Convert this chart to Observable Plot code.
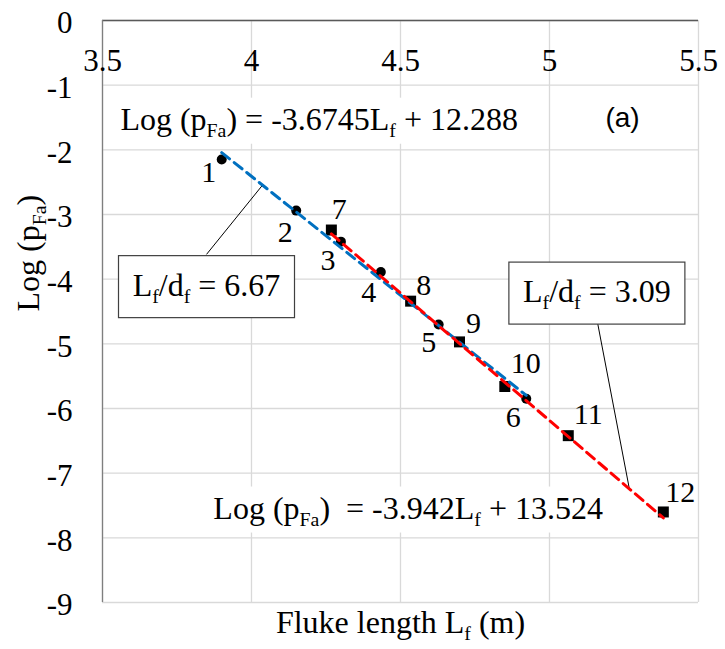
<!DOCTYPE html>
<html><head><meta charset="utf-8">
<script src="https://cdn.jsdelivr.net/npm/d3@7"></script>
<script src="https://cdn.jsdelivr.net/npm/@observablehq/plot@0.6"></script>
<style>body{margin:0;background:#fff} svg text{font-variant:normal !important;}</style>
</head><body><div id="chart"></div>
<script>
// ---- data ----
const xTicks = [3.5, 4, 4.5, 5, 5.5];
const yTicks = [0, -1, -2, -3, -4, -5, -6, -7, -8, -9];
const circleLabels = ["1", "2", "3", "4", "5", "6"];
const circleX = [3.90, 4.15, 4.30, 4.434, 4.628, 4.922];
const circleY = [-2.15, -2.94, -3.42, -3.89, -4.70, -5.85];
const squareLabels = ["7", "8", "9", "10", "11", "12"];
const squareX = [4.268, 4.534, 4.698, 4.85, 5.063, 5.382];
const squareY = [-3.24, -4.34, -4.97, -5.66, -6.42, -7.60];
const trendSlopes = [-3.6745, -3.942];
const trendIntercepts = [12.288, 13.524];
const equationTexts = ["Log (p_{Fa}) = -3.6745L_{f} + 12.288", "Log (p_{Fa})\u00a0 = -3.942L_{f} + 13.524"];
const ratioTexts = ["L_{f}/d_{f} = 6.67", "L_{f}/d_{f} = 3.09"];
const panelLabel = "(a)";
const xTitle = "Fluke length L_{f} (m)";
const yTitle = "Log (p_{Fa})";

// ---- annotation placement (style) ----
const circleOffsets = [[-13, 13], [-11, 22], [-13, 19], [-12, 20], [-10, 18], [-13, 19]];
const squareOffsets = [[8, -21], [13, -16], [14, -19], [21, -23], [20, -21], [17, -20]];
const equationPos = [[3.560, -1.53], [3.872, -7.543]];
const ratioPos = [[3.849, -4.096], [5.159, -4.196]];
const leaderStart = [[3.849, -3.617], [5.161, -4.668]];
const leaderEndX = [4.037, 5.268];
const trendColors = ["#0070C0", "#FF0000"];

const serif = "'Liberation Serif','Times New Roman',serif";
const lineOf = (k, xs) => {
  const lo = d3.min(xs), hi = d3.max(xs);
  return [lo, hi].map(x => ({x, y: trendSlopes[k] * x + trendIntercepts[k]}));
};
const T = {fontFamily: serif, fontVariant: "normal"};

const marks = [
  Plot.ruleX(xTicks, {stroke: "#d9d9d9", strokeWidth: 1.3}),
  Plot.ruleY(yTicks, {stroke: "#d9d9d9", strokeWidth: 1.3}),
  Plot.ruleY([0], {stroke: "#595959", strokeWidth: 1.3}),
  Plot.ruleX([3.5], {stroke: "#7f7f7f", strokeWidth: 1.3}),
  Plot.axisY({ticks: yTicks, anchor: "left", tickSize: 0, tickPadding: 30, tickFormat: d => String(d), fontSize: 31, label: null, dy: 3, ...T}),
  Plot.text(xTicks, {x: d => d, y: 0, dy: 41, text: d => String(d), fontSize: 31, ...T}),
  Plot.text([xTitle], {frameAnchor: "bottom", dy: 30, fontSize: 32, ...T}),
  Plot.text([yTitle], {frameAnchor: "left", dx: -74, rotate: -90, fontSize: 32, ...T}),
  // leader lines
  Plot.link([0, 1], {
    x1: i => leaderStart[i][0], y1: i => leaderStart[i][1],
    x2: i => leaderEndX[i], y2: i => trendSlopes[i] * leaderEndX[i] + trendIntercepts[i],
    stroke: "black", strokeWidth: 1
  }),
  // markers
  Plot.dot(circleX.map((x, i) => ({x, y: circleY[i]})), {x: "x", y: "y", r: 5, fill: "black", symbol: "circle"}),
  Plot.dot(squareX.map((x, i) => ({x, y: squareY[i]})), {x: "x", y: "y", r: 6.2, fill: "black", symbol: "square"}),
  // trend lines
  Plot.line(lineOf(0, circleX), {x: "x", y: "y", stroke: trendColors[0], strokeWidth: 3, strokeDasharray: "10,6"}),
  Plot.line(lineOf(1, squareX), {x: "x", y: "y", stroke: trendColors[1], strokeWidth: 3, strokeDasharray: "10,6"}),
  // point labels
  ...circleLabels.map((lab, i) => Plot.text([lab], {x: circleX[i], y: circleY[i], dx: circleOffsets[i][0], dy: circleOffsets[i][1], fontSize: 30, ...T})),
  ...squareLabels.map((lab, i) => Plot.text([lab], {x: squareX[i], y: squareY[i], dx: squareOffsets[i][0], dy: squareOffsets[i][1], fontSize: 30, ...T})),
  // equations
  ...equationTexts.map((t, i) => Plot.text([t], {x: equationPos[i][0], y: equationPos[i][1], textAnchor: "start", fontSize: 32, ...T})),
  // ratio boxes
  ...ratioTexts.map((t, i) => Plot.text([t], {x: ratioPos[i][0], y: ratioPos[i][1], fontSize: 32, ...T})),
  Plot.text([panelLabel], {x: 5.245, y: -1.51, fontSize: 28, fontFamily: "'Liberation Sans',Arial,sans-serif"})
];

const chart = Plot.plot({
  width: 725, height: 649,
  marginLeft: 102, marginRight: 27, marginTop: 20, marginBottom: 47,
  x: {domain: [3.5, 5.5], axis: null},
  y: {domain: [-9, 0]},
  style: {fontFamily: serif, background: "#fff", overflow: "visible"},
  marks
});
document.getElementById("chart").appendChild(chart);

// ---- post-processing: subscripts and boxes ----
const ns = "http://www.w3.org/2000/svg";
const texts = [...chart.querySelectorAll("text")];
const eqEls = texts.filter(t => equationTexts.includes(t.textContent));
const ratioEls = texts.filter(t => ratioTexts.includes(t.textContent));

texts.forEach(t => {
  if (t.querySelector("tspan")) return;
  const s = t.textContent;
  if (!s.includes("_{")) return;
  const fs = parseFloat(getComputedStyle(t).fontSize) || 30;
  const shift = 0.22 * fs;
  t.textContent = "";
  t.style.whiteSpace = "pre";
  const parts = s.split(/_\{([^}]*)\}/);
  let down = false;
  parts.forEach((p, k) => {
    if (p === "") return;
    const sp = document.createElementNS(ns, "tspan");
    sp.textContent = p;
    if (k % 2 === 1) {
      sp.setAttribute("font-size", (0.62 * fs) + "px");
      if (!down) { sp.setAttribute("dy", shift); down = true; }
    } else if (down) {
      sp.setAttribute("dy", -shift); down = false;
    }
    t.appendChild(sp);
  });
});

function addBox(t, opts) {
  const b = t.getBBox();
  const r = document.createElementNS(ns, "rect");
  let x, y, w, h;
  if (opts.w) {
    w = opts.w; h = opts.h;
    x = b.x + b.width / 2 - w / 2; y = b.y + b.height / 2 - h / 2;
  } else {
    x = b.x - opts.pad; y = b.y - opts.pad; w = b.width + 2 * opts.pad; h = b.height + 2 * opts.pad;
  }
  r.setAttribute("x", x); r.setAttribute("y", y);
  r.setAttribute("width", w); r.setAttribute("height", h);
  r.setAttribute("fill", "white");
  r.setAttribute("stroke", opts.stroke || "none");
  r.setAttribute("stroke-width", 1.2);
  const tr = t.getAttribute("transform");
  if (tr) r.setAttribute("transform", tr);
  t.parentNode.insertBefore(r, t);
}
eqEls.forEach(t => addBox(t, {pad: 3}));
ratioEls.forEach(t => addBox(t, {w: 176, h: 62, stroke: "#404040"}));
</script>
</body></html>
